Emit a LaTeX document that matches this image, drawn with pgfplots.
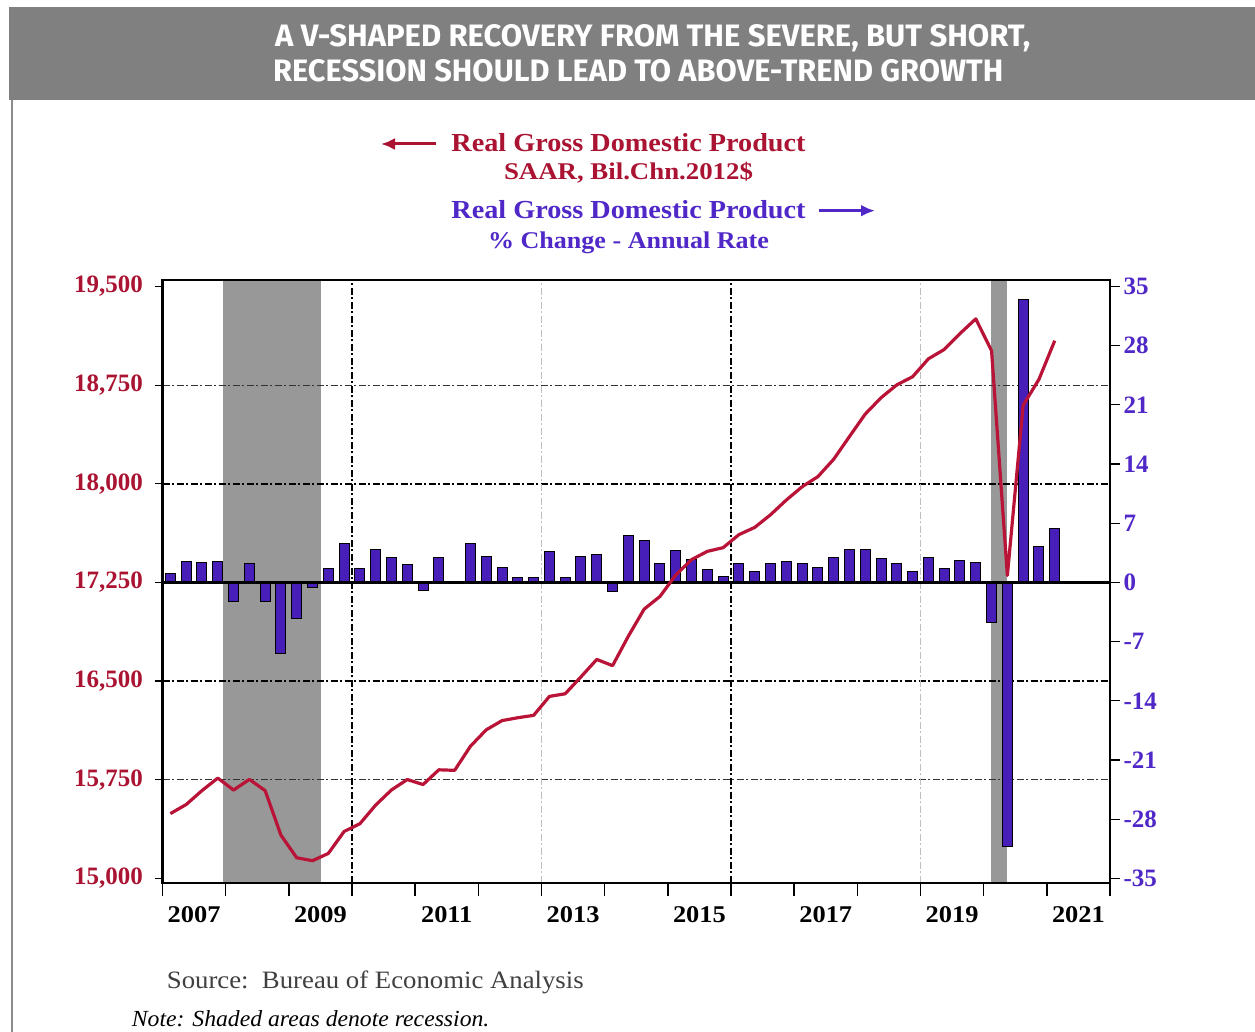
\documentclass[border=0pt]{standalone}
\usepackage{graphicx}
\usepackage{pgfplots}
\pgfplotsset{compat=1.18}
\usepackage{pgfplotstable}
\usepackage{fontspec}
\setmainfont{Liberation Serif}
\newfontfamily\titlefont{Fira Sans}
\usetikzlibrary{arrows.meta}
\definecolor{gdpred}{RGB}{185,20,55}
\definecolor{labred}{RGB}{170,20,50}
\definecolor{labblue}{RGB}{80,40,200}
\definecolor{barblue}{RGB}{72,30,185}
\definecolor{recgray}{RGB}{152,152,152}
\definecolor{bannergray}{RGB}{128,128,128}

\pgfplotstableread{
x g
2007.125 1.0
2007.375 2.5
2007.625 2.3
2007.875 2.5
2008.125 -2.2
2008.375 2.2
2008.625 -2.2
2008.875 -8.4
2009.125 -4.3
2009.375 -0.6
2009.625 1.6
2009.875 4.6
2010.125 1.6
2010.375 3.9
2010.625 3.0
2010.875 2.1
2011.125 -1.0
2011.375 3.0
2011.625 -0.1
2011.875 4.6
2012.125 3.1
2012.375 1.8
2012.625 0.6
2012.875 0.6
2013.125 3.6
2013.375 0.6
2013.625 3.1
2013.875 3.3
2014.125 -1.1
2014.375 5.5
2014.625 5.0
2014.875 2.2
2015.125 3.8
2015.375 2.7
2015.625 1.5
2015.875 0.7
2016.125 2.2
2016.375 1.3
2016.625 2.2
2016.875 2.5
2017.125 2.2
2017.375 1.8
2017.625 3.0
2017.875 3.9
2018.125 3.9
2018.375 2.8
2018.625 2.2
2018.875 1.3
2019.125 3.0
2019.375 1.6
2019.625 2.6
2019.875 2.4
2020.125 -4.8
2020.375 -31.2
2020.625 33.5
2020.875 4.3
2021.125 6.4
}\growth

\pgfplotstableread{
x g
2007.125 15492
2007.375 15561
2007.625 15667
2007.875 15762
2008.125 15671
2008.375 15752
2008.625 15667
2008.875 15328
2009.125 15156
2009.375 15134
2009.625 15189
2009.875 15356
2010.125 15415
2010.375 15557
2010.625 15672
2010.875 15751
2011.125 15713
2011.375 15825
2011.625 15821
2011.875 16004
2012.125 16129
2012.375 16199
2012.625 16221
2012.875 16239
2013.125 16383
2013.375 16403
2013.625 16532
2013.875 16664
2014.125 16617
2014.375 16841
2014.625 17047
2014.875 17143
2015.125 17306
2015.375 17423
2015.625 17486
2015.875 17514
2016.125 17613
2016.375 17668
2016.625 17764
2016.875 17876
2017.125 17977
2017.375 18054
2017.625 18186
2017.875 18359
2018.125 18530
2018.375 18654
2018.625 18752
2018.875 18814
2019.125 18950
2019.375 19021
2019.625 19142
2019.875 19254
2020.125 19011
2020.375 17303
2020.625 18597
2020.875 18794
2021.125 19088
}\level

\pgfplotsset{base/.style={scale only axis, width=947.5pt, height=602.7pt,
  xmin=2007, xmax=2022, at={(162.5pt,-882.7pt)}, anchor=south west,
  scaled y ticks=false, scaled x ticks=false}}

\begin{document}
\begin{tikzpicture}
\path[use as bounding box, fill=white] (0pt,0pt) rectangle (1255pt,-1032pt);
\fill[bannergray] (9pt,-7pt) rectangle (1255pt,-100pt);
\draw[black!45, line width=2pt] (11.7pt,-100pt) -- (11.7pt,-1032pt);
\node[anchor=base west, inner sep=0pt, text=white] at (275pt,-46.7pt)
  {\resizebox{755pt}{22pt}{\titlefont\bfseries A V-SHAPED RECOVERY FROM THE SEVERE, BUT SHORT,}};
\node[anchor=base west, inner sep=0pt, text=white] at (273pt,-82pt)
  {\resizebox{730pt}{22pt}{\titlefont\bfseries RECESSION SHOULD LEAD TO ABOVE-TREND GROWTH}};

\node[anchor=base, inner sep=0pt, text=labred] at (628.5pt,-152pt)
  {\scalebox{1.086}[1]{\fontsize{26}{26}\selectfont\bfseries Real Gross Domestic Product}};
\node[anchor=base, inner sep=0pt, text=labred] at (628.5pt,-179.3pt)
  {\scalebox{1.118}[1]{\fontsize{24}{24}\selectfont\bfseries SAAR, Bil.Chn.2012\$}};
\node[anchor=base, inner sep=0pt, text=labblue] at (628.5pt,-219pt)
  {\scalebox{1.086}[1]{\fontsize{26}{26}\selectfont\bfseries Real Gross Domestic Product}};
\node[anchor=base, inner sep=0pt, text=labblue] at (628.5pt,-248.3pt)
  {\scalebox{1.086}[1]{\fontsize{24}{24}\selectfont\bfseries \% Change - Annual Rate}};
\draw[labred, line width=3pt, -{Latex[length=14pt,width=12pt]}] (436pt,-144pt) -- (381pt,-144pt);
\draw[labblue, line width=3pt, -{Latex[length=14pt,width=12pt]}] (819pt,-210.7pt) -- (875pt,-210.7pt);

% axis 1: left scale, shading, grid, left tick labels, year labels
\begin{axis}[base, ymin=14966.5, ymax=19549.4,
  axis line style={draw=none},
  tick align=outside, major tick length=8pt,
  ytick={15000,15750,16500,17250,18000,18750,19500},
  yticklabels={{15,000},{15,750},{16,500},{17,250},{18,000},{18,750},{19,500}},
  yticklabel style={font=\fontsize{25}{25}\selectfont\bfseries, text=labred, xshift=-8pt},
  ytick style={black, line width=1.2pt},
  ytick pos=left,
  xtick={2007.5,2009.5,2011.5,2013.5,2015.5,2017.5,2019.5,2021.5},
  xticklabels={{\scalebox{1.1}[1]{2007}},{\scalebox{1.1}[1]{2009}},{\scalebox{1.1}[1]{2011}},{\scalebox{1.1}[1]{2013}},{\scalebox{1.1}[1]{2015}},{\scalebox{1.1}[1]{2017}},{\scalebox{1.1}[1]{2019}},{\scalebox{1.1}[1]{2021}}},
  xticklabel style={font=\fontsize{24}{24}\selectfont\bfseries, text=black, yshift=-12pt},
  xtick style={draw=none},
  xtick pos=bottom]
\fill[recgray] (axis cs:2007.96,14966.5) rectangle (axis cs:2009.51,19549.4);
\fill[recgray] (axis cs:2020.12,14966.5) rectangle (axis cs:2020.37,19549.4);
\draw[black!80, line width=1pt, dash pattern=on 7pt off 2.5pt on 2pt off 2.5pt] (axis cs:2007,18750) -- (axis cs:2022,18750);
\draw[black!80, line width=1pt, dash pattern=on 7pt off 2.5pt on 2pt off 2.5pt] (axis cs:2007,15750) -- (axis cs:2022,15750);
\draw[black, line width=1.5pt, dash pattern=on 7pt off 2.5pt on 2pt off 2.5pt] (axis cs:2007,18000) -- (axis cs:2022,18000);
\draw[black, line width=1.5pt, dash pattern=on 7pt off 2.5pt on 2pt off 2.5pt] (axis cs:2007,16500) -- (axis cs:2022,16500);
\draw[black, line width=1.5pt, dash pattern=on 7pt off 2.5pt on 2pt off 2.5pt] (axis cs:2010,14966.5) -- (axis cs:2010,19549.4);
\draw[black, line width=1.5pt, dash pattern=on 7pt off 2.5pt on 2pt off 2.5pt] (axis cs:2016,14966.5) -- (axis cs:2016,19549.4);
\draw[black!25, line width=1.2pt, dash pattern=on 7pt off 2.5pt on 2pt off 2.5pt] (axis cs:2013,14966.5) -- (axis cs:2013,19549.4);
\draw[black!25, line width=1.2pt, dash pattern=on 7pt off 2.5pt on 2pt off 2.5pt] (axis cs:2019,14966.5) -- (axis cs:2019,19549.4);
\end{axis}

% axis 2: right scale, bars
\begin{axis}[base, ymin=-35.52, ymax=35.77,
  axis line style={draw=none},
  xtick=\empty,
  tick align=outside, major tick length=10pt,
  ytick={-35,-28,-21,-14,-7,0,7,14,21,28,35},
  yticklabels={{-35},{-28},{-21},{-14},{-7},{0},{7},{14},{21},{28},{35}},
  yticklabel style={font=\fontsize{25}{25}\selectfont\bfseries, text=labblue},
  ytick style={black, line width=1.2pt},
  ytick pos=right,
  ybar, bar width=10pt]
\addplot[fill=barblue, draw=black, line width=1pt] table[x=x, y=g] {\growth};
\draw[black, line width=2.4pt] (axis cs:2007,0) -- (axis cs:2022,0);
\end{axis}

% axis 3: left scale, GDP level line, frame, x ticks
\begin{axis}[base, ymin=14966.5, ymax=19549.4,
  axis line style={black, line width=2.4pt},
  ytick=\empty,
  xtick={2007,2008,...,2022}, xticklabels={},
  minor x tick num=3,
  tick align=outside, major tick length=13pt, minor tick length=7pt,
  xtick style={black, line width=1.5pt},
  xtick pos=bottom]
\addplot[gdpred, line width=3.2pt, line join=round, mark=none] table[x=x, y=g] {\level};
\end{axis}

\node[anchor=base west, inner sep=0pt, text=black!75] at (166.7pt,-988.3pt)
  {\scalebox{1.07}[1]{\fontsize{25}{25}\selectfont Source:\ \ Bureau of Economic Analysis}};
\node[anchor=base west, inner sep=0pt, text=black] at (131.7pt,-1026.7pt)
  {\scalebox{1.03}[1]{\fontsize{23}{23}\selectfont\itshape Note: Shaded areas denote recession.}};
\end{tikzpicture}
\end{document}
